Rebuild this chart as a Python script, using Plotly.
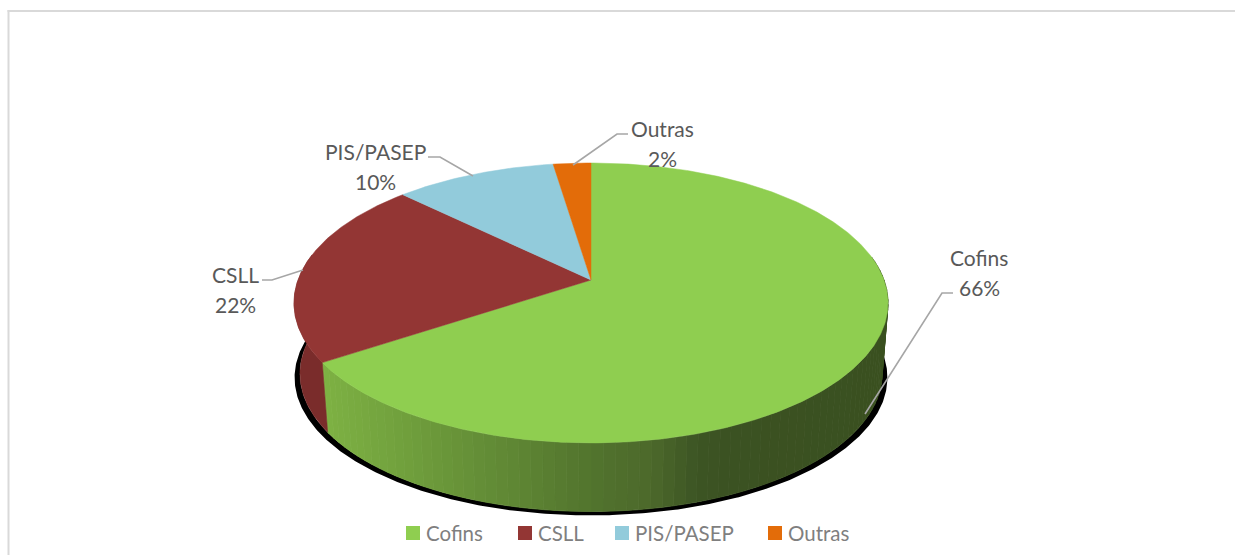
import math
import plotly.graph_objects as go

categories = ["Cofins", "CSLL", "PIS/PASEP", "Outras"]
values = [65.7, 21.6, 10.3, 2.4]
slice_colors = ["#8FCE50", "#933634", "#92CBDB", "#E36C09"]
side_red = "#7A2C2B"

# view of the tilted disc, in page pixels
CX, CY, A, B, K = 591, 280, 293, 136.2, 0.164
DEPTH, BOTTOM_X, BOTTOM_Y = 71, 0.98, 0.985

# side shading, sampled along the page width
shade_x = [300, 330, 500, 600, 650, 695, 720, 890]
shade_rgb = [(0x80, 0xB5, 0x45), (0x7D, 0xB1, 0x43), (0x61, 0x8A, 0x35), (0x51, 0x72, 0x2D),
             (0x4C, 0x69, 0x2B), (0x3D, 0x55, 0x24), (0x3B, 0x52, 0x22), (0x3A, 0x50, 0x20)]


def top_pt(deg):
    a = math.radians(deg)
    X, Y = math.sin(a), math.cos(a)
    d = 1 + K * Y
    return CX + A * X / d, CY - B * Y / d


def bottom_pt(deg, sx=BOTTOM_X, sy=BOTTOM_Y, extra=0):
    x, y = top_pt(deg)
    return CX + (x - CX) * sx, CY + DEPTH + extra + (y - CY) * sy


def arc(d0, d1, fn):
    n = max(2, int(abs(d1 - d0)) * 2)
    return [fn(d0 + (d1 - d0) * i / n) for i in range(n + 1)]


def shade(x):
    x = min(max(x, shade_x[0]), shade_x[-1])
    for i in range(len(shade_x) - 1):
        if x <= shade_x[i + 1]:
            t = (x - shade_x[i]) / (shade_x[i + 1] - shade_x[i])
            c = [round(p + (q - p) * t) for p, q in zip(shade_rgb[i], shade_rgb[i + 1])]
            return "rgb(%d,%d,%d)" % tuple(c)


def poly(pts, color, line=0.0):
    xs = [p[0] for p in pts]
    ys = [p[1] for p in pts]
    return go.Scatter(x=xs + xs[:1], y=ys + ys[:1], mode="lines", fill="toself", fillcolor=color,
                      line=dict(color=color, width=line), showlegend=False, hoverinfo="skip")


total = sum(values)
edges = [0.0]
for v in values:
    edges.append(edges[-1] + 360 * v / total)

fig = go.Figure()

# black rim under the disc: a thin crescent below the wall's lower edge
rim_in = arc(84, 276, bottom_pt)
rim_out = arc(84, 276, lambda d: bottom_pt(d, 0.998, BOTTOM_Y, 4))
fig.add_trace(poly(rim_in + rim_out[::-1], "#000000"))

# side wall: shaded first slice, flat second slice
STEP = 2.0
d = 80.0
while d < edges[1]:
    e = min(d + STEP, edges[1])
    p0, p1 = top_pt(d), top_pt(e)
    b0, b1 = bottom_pt(d), bottom_pt(e)
    fig.add_trace(poly([p0, p1, b1, b0], shade((b0[0] + b1[0]) / 2), 0.8))
    d = e
wall = arc(edges[1], 281, top_pt) + arc(281, edges[1], bottom_pt)
fig.add_trace(poly(wall, side_red, 0.5))

# top face
for i, c in enumerate(slice_colors):
    pts = [(CX, CY)] + arc(edges[i], edges[i + 1], top_pt)
    fig.add_trace(poly(pts, c, 0.5))

# leader lines
leaders = [
    ([953, 942, 865], [293, 293, 414]),
    ([262, 272, 303], [280, 280, 270]),
    ([428, 440, 473], [157, 157, 176]),
    ([628, 617, 573], [134, 134, 165]),
]
for lx, ly in leaders:
    fig.add_trace(go.Scatter(x=lx, y=ly, mode="lines", line=dict(color="#A6A6A6", width=1.6),
                             showlegend=False, hoverinfo="skip"))

# legend row
legend_x = [413, 525, 622, 775]
legend_y = 533
annotations = []
for name, c, x in zip(categories, slice_colors, legend_x):
    fig.add_trace(go.Scatter(x=[x], y=[legend_y], mode="markers", name=name,
                             showlegend=False, hoverinfo="skip",
                             marker=dict(symbol="square", size=14, color=c)))
    annotations.append(dict(x=x + 11, y=legend_y, xref="x", yref="y", text=name, showarrow=False,
                            xanchor="left", yanchor="middle",
                            font=dict(family="Lato", size=20.5, color="#7F7F7F")))

label_x = [979, 235, 375, 662]
label_name_y = [257, 274, 151, 128]
label_pct_y = [287, 304, 181, 158]
for name, v, x, y0, y1 in zip(categories, values, label_x, label_name_y, label_pct_y):
    for txt, y in ((name, y0), (f"{round(v)}%", y1)):
        annotations.append(dict(x=x, y=y, xref="x", yref="y", text=txt, showarrow=False,
                                xanchor="center", yanchor="middle",
                                font=dict(family="Lato", size=21, color="#595959")))

fig.update_layout(
    width=1235, height=555, margin=dict(l=0, r=0, t=0, b=0),
    paper_bgcolor="#FFFFFF", plot_bgcolor="#FFFFFF", showlegend=False,
    xaxis=dict(range=[0, 1235], visible=False, fixedrange=True),
    yaxis=dict(range=[555, 0], visible=False, fixedrange=True),
    annotations=annotations,
    shapes=[
        dict(type="line", xref="x", yref="y", x0=8.5, x1=8.5, y0=10, y1=555,
             line=dict(color="#D9D9D9", width=2)),
        dict(type="line", xref="x", yref="y", x0=7.5, x1=1235, y0=11, y1=11,
             line=dict(color="#D9D9D9", width=2)),
    ],
)

fig.write_html("out.html", config={"displayModeBar": False},
               post_script="document.body.style.margin='0';document.body.style.overflow='hidden';")
